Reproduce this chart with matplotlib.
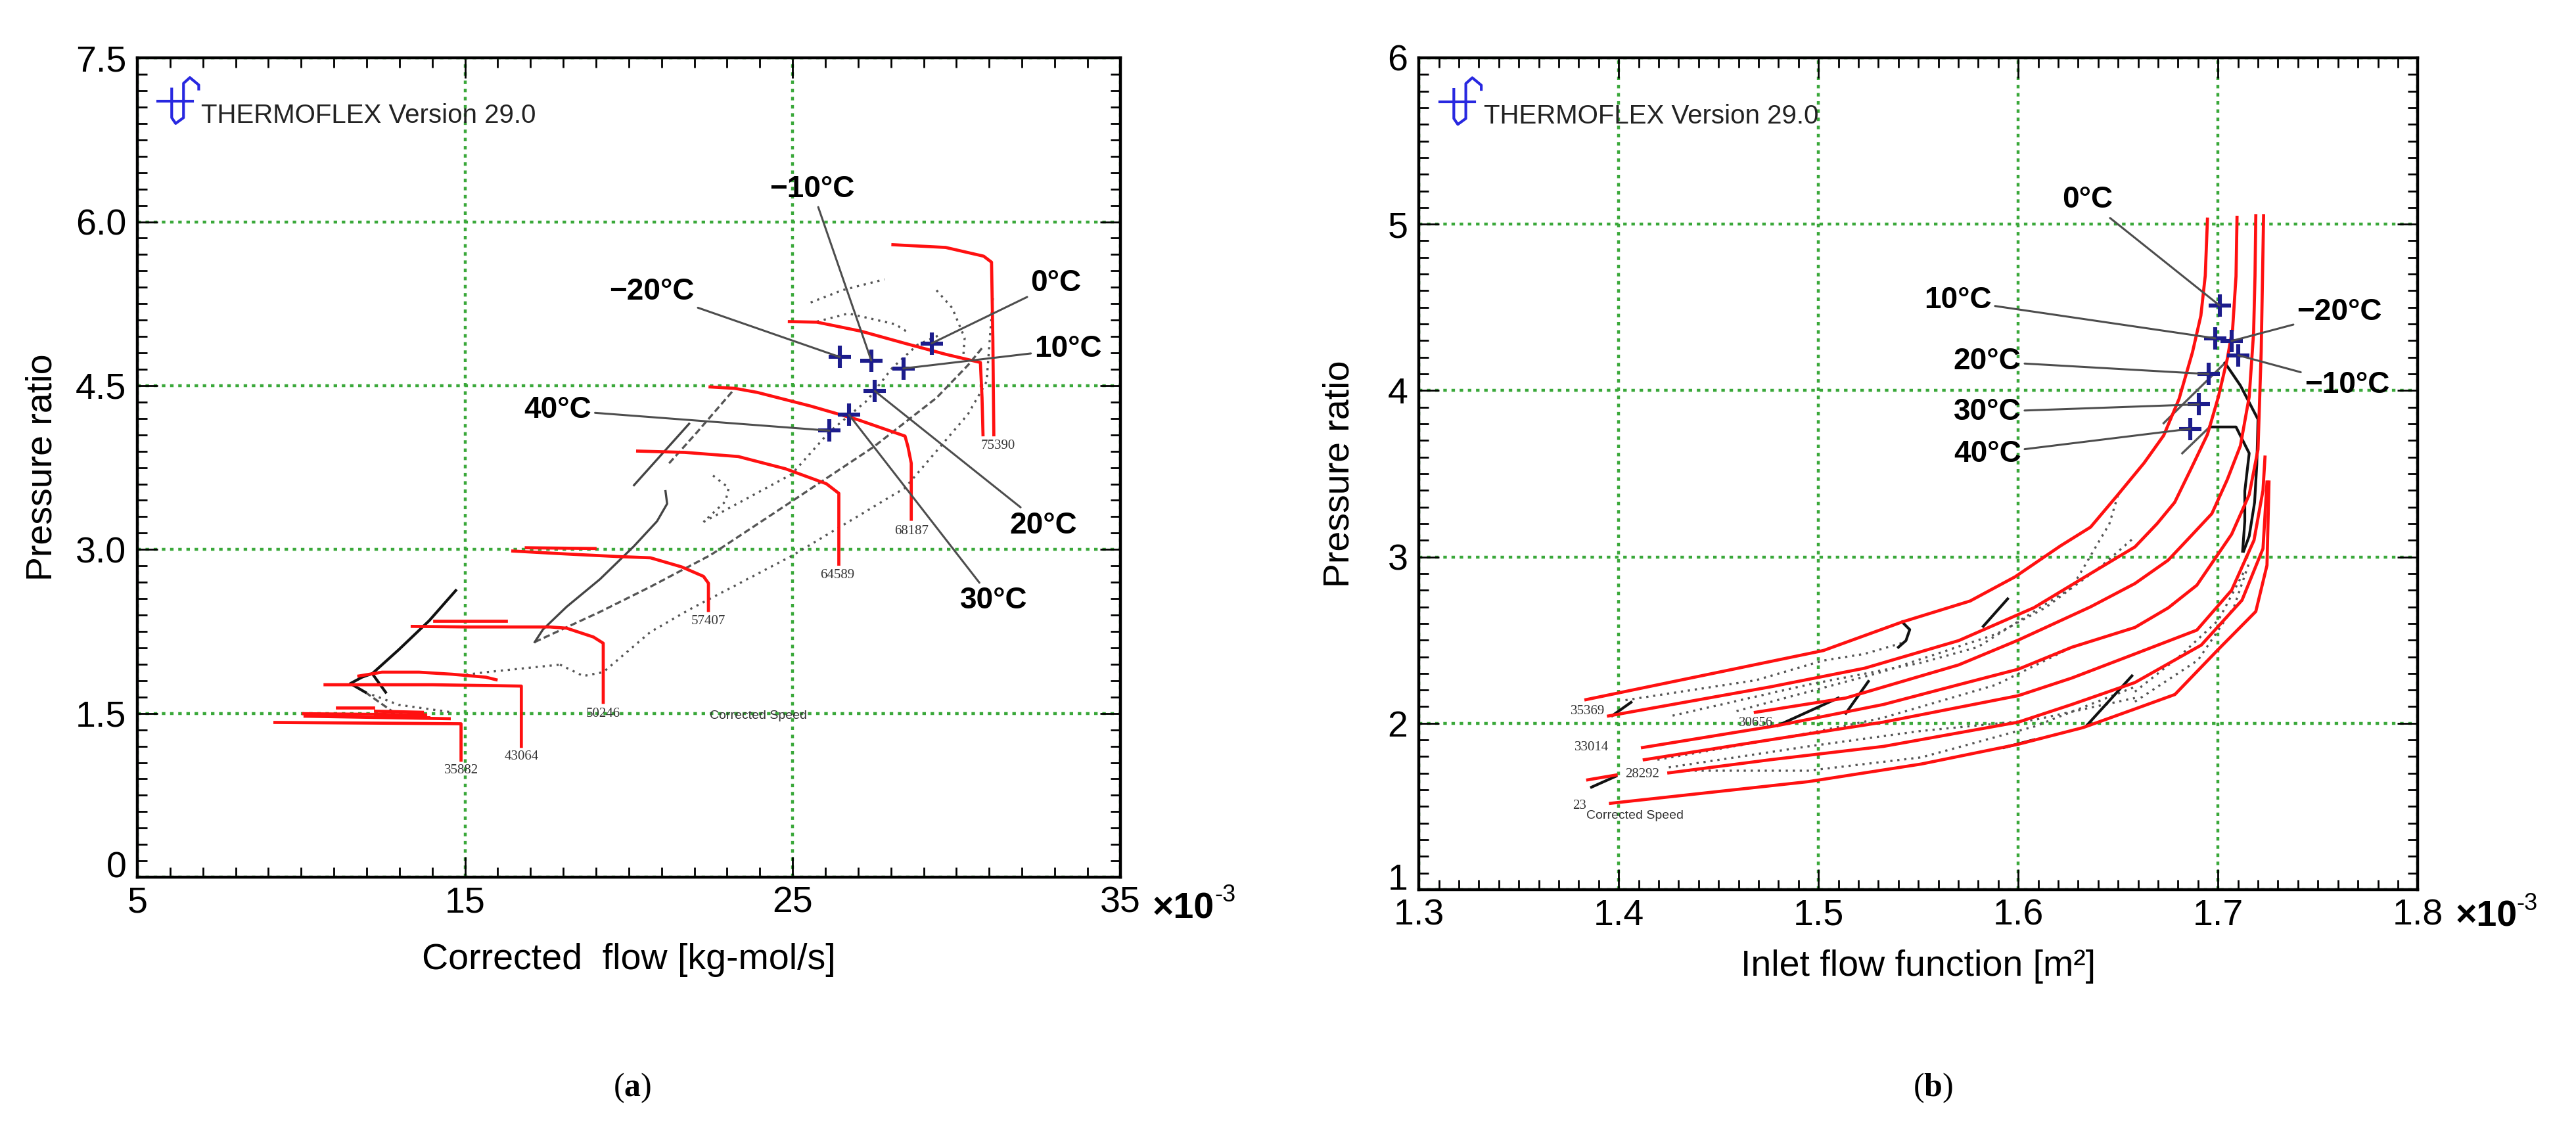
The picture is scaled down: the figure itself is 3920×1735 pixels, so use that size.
import matplotlib.pyplot as plt
from matplotlib.ticker import MultipleLocator

plt.rcParams['font.family'] = ['Liberation Sans', 'DejaVu Sans']
plt.rcParams['mathtext.fontset'] = 'custom'
plt.rcParams['mathtext.rm'] = 'Liberation Serif'
plt.rcParams['mathtext.bf'] = 'Liberation Serif:bold'

# ---------------- (a) corrected flow [x1e-3 kg-mol/s] vs pressure ratio ----------------
a_speed_75390 = [(28.06, 5.79), (29.67, 5.765), (30.83, 5.685), (31.07, 5.63), (31.11, 4.94), (31.14, 4.05)]
a_speed_7xxxx = [(24.9, 5.086), (25.74, 5.081), (27.08, 4.999), (28.43, 4.887), (29.67, 4.787),
                 (30.73, 4.712), (30.78, 4.39), (30.81, 4.05)]
a_speed_68187 = [(22.48, 4.488), (23.24, 4.475), (23.92, 4.438), (25.55, 4.313), (26.99, 4.188),
                 (27.95, 4.088), (28.43, 4.038), (28.52, 3.94), (28.62, 3.79), (28.62, 3.277)]
a_speed_64589 = [(20.27, 3.901), (21.71, 3.889), (23.34, 3.851), (24.78, 3.739), (26.03, 3.602),
                 (26.41, 3.514), (26.41, 2.866)]
a_speed_57407 = [(16.46, 2.986), (18.1, 2.959), (19.63, 2.936), (20.66, 2.924), (21.61, 2.841),
                 (22.28, 2.754), (22.43, 2.691), (22.43, 2.442)]
a_speed_50246 = [(13.39, 2.296), (15.03, 2.291), (17.59, 2.291), (18.1, 2.28), (18.92, 2.199),
                 (19.22, 2.142), (19.22, 1.601)]
a_speed_43064 = [(10.73, 1.762), (14.01, 1.762), (16.67, 1.75), (16.72, 1.75), (16.72, 1.198)]
a_speed_35882 = [(9.2, 1.417), (14.88, 1.405), (14.88, 1.071)]
a_speed_extra = [
    [(16.87, 3.016), (18.97, 3.009)],
    [(14.06, 2.349), (16.26, 2.349)],
    [(11.76, 1.842), (12.47, 1.877), (13.6, 1.877), (14.62, 1.858), (15.64, 1.831), (15.95, 1.808)],
    [(10.07, 1.497), (13.8, 1.486)],
    [(11.09, 1.55), (12.2, 1.55)],
    [(10.12, 1.474), (14.52, 1.451)],
    [(12.27, 1.52), (13.7, 1.51)],
    [(12.27, 1.47), (13.9, 1.46)],
]
a_speed_labels = ['75390', '68187', '64589', '57407', '50246', '43064', '35882']
a_speed_label_x = [31.26, 28.62, 26.36, 22.43, 19.22, 16.72, 14.88]
a_speed_label_y = [3.95, 3.165, 2.766, 2.342, 1.497, 1.106, 0.979]

a_black_lines = [
    [(14.72, 2.625), (13.91, 2.349), (12.98, 2.083), (12.17, 1.864), (12.58, 1.693)],
    [(12.17, 1.864), (11.86, 1.831), (11.5, 1.773), (11.96, 1.693)],
]
a_gray_lines = [
    [(21.12, 3.534), (21.17, 3.419), (20.86, 3.258), (20.15, 3.028), (19.12, 2.728), (18.1, 2.475),
     (17.38, 2.268), (17.13, 2.153)],
    [(20.16, 3.589), (21.84, 4.151)],
]
a_dash_lines = [
    [(17.13, 2.153), (19.12, 2.429), (20.66, 2.659), (22.5, 2.95), (24.97, 3.44), (27.47, 3.939),
     (29.39, 4.388), (30.35, 4.687), (30.83, 4.862)],
    [(21.23, 3.789), (22.09, 4.076), (23.24, 4.475)],
    [(11.96, 1.693), (12.88, 1.497)],
]
a_dot_lines = [
    [(17.9, 1.946), (18.61, 1.842), (19.22, 1.877), (20.66, 2.245), (21.86, 2.452), (24.97, 2.941),
     (28.43, 3.564), (30.35, 4.238), (30.92, 4.537), (31.11, 5.3)],
    [(12.17, 1.67), (12.98, 1.578), (14.62, 1.509)],
    [(15.03, 1.854), (15.64, 1.877), (17.9, 1.946)],
    [(22.28, 3.252), (24.97, 3.689), (26.12, 4.076), (27.27, 4.363), (28.04, 4.662), (28.81, 4.874),
     (29.48, 4.962)],
    [(25.55, 5.261), (26.51, 5.373), (27.8, 5.473)],
    [(29.39, 5.373), (29.87, 5.211), (30.25, 4.937), (30.2, 4.737)],
    [(25.74, 5.086), (26.7, 5.161), (28.14, 5.061), (28.52, 4.987)],
    [(22.57, 3.677), (23.05, 3.564), (22.95, 3.44), (22.28, 3.252)],
]
a_temps = ['\u221220\u00b0C', '\u221210\u00b0C', '0\u00b0C', '10\u00b0C', '20\u00b0C', '30\u00b0C', '40\u00b0C']
a_mark_x = [26.44, 27.40, 29.24, 28.38, 27.51, 26.72, 26.12]
a_mark_y = [4.762, 4.73, 4.887, 4.657, 4.45, 4.233, 4.088]
a_text_x = [20.7, 25.59, 33.04, 33.41, 32.65, 31.13, 17.83]
a_text_y = [5.36, 6.30, 5.44, 4.835, 3.22, 2.53, 4.277]
a_xticks = [5, 15, 25, 35]
a_yticks = [0, 1.5, 3.0, 4.5, 6.0, 7.5]
a_yticklabels = ['0', '1.5', '3.0', '4.5', '6.0', '7.5']

# ---------------- (b) inlet flow function [x1e-3 m2] vs pressure ratio ----------------
b_speed_1 = [(1.3836, 2.142), (1.5024, 2.437), (1.5419, 2.609), (1.5759, 2.735), (1.5985, 2.881),
             (1.6211, 3.066), (1.6362, 3.179), (1.6499, 3.374), (1.663, 3.565), (1.6728, 3.73),
             (1.6805, 3.95), (1.6872, 4.23), (1.6914, 4.45), (1.6936, 4.69), (1.6947, 5.03)]
b_speed_2 = [(1.3949, 2.044), (1.476, 2.219), (1.5231, 2.331), (1.5702, 2.497), (1.6079, 2.695),
             (1.6362, 2.90), (1.6584, 3.06), (1.6695, 3.2), (1.6783, 3.328), (1.6871, 3.545),
             (1.6947, 3.736), (1.7002, 3.963), (1.7046, 4.189), (1.7073, 4.37), (1.709, 4.687),
             (1.7095, 5.04)]
b_speed_3 = [(1.4684, 2.066), (1.5137, 2.152), (1.5702, 2.351), (1.6, 2.50), (1.6362, 2.70),
             (1.6584, 2.84), (1.675, 2.98), (1.686, 3.12), (1.6969, 3.26), (1.7046, 3.464),
             (1.7112, 3.668), (1.7156, 3.963), (1.7178, 4.348), (1.7185, 4.687), (1.7189, 5.05)]
b_speed_4 = [(1.4119, 1.854), (1.4797, 1.987), (1.5325, 2.113), (1.5702, 2.232), (1.6, 2.325),
             (1.6268, 2.457), (1.6584, 2.576), (1.6751, 2.694), (1.6894, 2.83), (1.7068, 3.136),
             (1.7156, 3.374), (1.72, 3.646), (1.7216, 4.234), (1.7228, 5.05)]
b_speed_5 = [(1.4128, 1.781), (1.476, 1.901), (1.5325, 2.007), (1.6, 2.166), (1.6268, 2.272),
             (1.6584, 2.417), (1.6894, 2.56), (1.7068, 2.8), (1.718, 3.1), (1.7225, 3.4), (1.7235, 3.6)]
b_speed_6 = [(1.4251, 1.702), (1.476, 1.781), (1.5325, 1.861), (1.6, 2.007), (1.6268, 2.113),
             (1.6584, 2.245), (1.6916, 2.47), (1.712, 2.74), (1.7225, 3.05), (1.7245, 3.45)]
b_speed_7 = [(1.3959, 1.519), (1.4948, 1.649), (1.5514, 1.755), (1.6, 1.874), (1.6324, 1.974),
             (1.6584, 2.086), (1.6784, 2.173), (1.7002, 2.445), (1.7189, 2.672), (1.7245, 2.95),
             (1.7255, 3.45)]
b_speed_short = [(1.3845, 1.660), (1.3987, 1.689)]
b_speed_labels = ['35369', '30656', '33014', '28292', '23']
b_speed_label_x = [1.3932, 1.4772, 1.3952, 1.4205, 1.3838]
b_speed_label_y = [2.073, 2.0, 1.854, 1.695, 1.503]

b_black_lines = [
    [(1.7035, 4.166), (1.7112, 4.03), (1.72, 3.827), (1.7194, 3.555), (1.7183, 3.328), (1.7156, 3.125),
     (1.7128, 3.034)],
    [(1.6958, 3.781), (1.709, 3.781), (1.7156, 3.623), (1.7134, 3.396), (1.7134, 3.215), (1.7123, 3.034)],
    [(1.3968, 2.046), (1.4062, 2.126)],
    [(1.4797, 1.987), (1.5099, 2.152)],
    [(1.5137, 2.06), (1.525, 2.252)],
    [(1.5419, 2.609), (1.5457, 2.563), (1.5438, 2.497), (1.54, 2.457)],
    [(1.5825, 2.583), (1.5947, 2.748)],
    [(1.6343, 1.987), (1.6569, 2.285)],
    [(1.3864, 1.616), (1.3987, 1.682)],
    [(1.5928, 1.854), (1.6079, 1.901)],
]
b_gray_lines = [
    [(1.6728, 3.804), (1.7035, 4.166)],
    [(1.6821, 3.623), (1.6958, 3.781)],
]
b_dot_lines = [
    [(1.4034, 2.139), (1.4684, 2.258), (1.5024, 2.377), (1.523, 2.417), (1.5419, 2.483)],
    [(1.427, 2.046), (1.4948, 2.232), (1.5514, 2.364), (1.5796, 2.457), (1.6268, 2.815), (1.6456, 3.199),
     (1.6499, 3.37)],
    [(1.459, 2.073), (1.5325, 2.311), (1.589, 2.536), (1.6136, 2.695), (1.6418, 2.947), (1.657, 3.106)],
    [(1.4194, 1.781), (1.4948, 1.94), (1.5325, 2.033), (1.589, 2.232), (1.6268, 2.457)],
    [(1.4251, 1.735), (1.4948, 1.861), (1.5514, 1.954), (1.6079, 2.02), (1.6584, 2.152)],
    [(1.4345, 1.715), (1.4948, 1.715), (1.5514, 1.795), (1.6079, 1.98), (1.6584, 2.219)],
    [(1.6584, 2.19), (1.6805, 2.4), (1.7002, 2.62), (1.7134, 2.92)],
    [(1.6584, 2.13), (1.69, 2.38), (1.708, 2.7), (1.716, 2.98)],
]
b_temps = ['0\u00b0C', '10\u00b0C', '\u221220\u00b0C', '\u221210\u00b0C', '20\u00b0C', '30\u00b0C', '40\u00b0C']
b_mark_x = [1.7008, 1.6986, 1.7068, 1.7101, 1.6953, 1.6904, 1.686]
b_mark_y = [4.511, 4.314, 4.298, 4.212, 4.099, 3.917, 3.77]
b_text_x = [1.6346, 1.5697, 1.7608, 1.7645, 1.5845, 1.5845, 1.5845]
b_text_y = [5.146, 4.541, 4.47, 4.035, 4.175, 3.872, 3.62]
b_xticks = [1.3, 1.4, 1.5, 1.6, 1.7, 1.8]
b_yticks = [1, 2, 3, 4, 5, 6]

RED = '#ff1010'
GRID = '#3aa83a'
NAVY = '#1c1c8c'


def line(ax, pts, **kw):
    xs = [p[0] for p in pts]
    ys = [p[1] for p in pts]
    ax.plot(xs, ys, **kw)


def style_axes(ax):
    ax.grid(True, color=GRID, linestyle=(0, (1.2, 1.6)), linewidth=1.6)
    ax.set_axisbelow(True)
    ax.tick_params(which='both', direction='in', top=True, right=True, labelsize=20)
    ax.tick_params(axis='x', which='both', pad=5)
    ax.tick_params(axis='y', which='both', pad=6)
    ax.tick_params(which='major', length=11, width=1.0)
    ax.tick_params(which='minor', length=5.5, width=1.0)
    for sp in ax.spines.values():
        sp.set_linewidth(1.6)
    # lowest y label sits on the axis, clear of the first x label
    ax.get_yticklabels()[0].set_verticalalignment('baseline')


def logo(ax):
    ax.plot([0.021, 0.056], [0.947, 0.947], color='#2828e0', lw=1.5, transform=ax.transAxes)
    ax.plot([0.035, 0.035, 0.039, 0.047, 0.047, 0.0535, 0.0625, 0.0625],
            [0.962, 0.927, 0.920, 0.927, 0.969, 0.976, 0.967, 0.962],
            color='#2828e0', lw=1.5, transform=ax.transAxes)
    ax.text(0.065, 0.921, 'THERMOFLEX Version 29.0', transform=ax.transAxes, fontsize=14.5,
            color='#222222', va='baseline', ha='left')


fig = plt.figure(figsize=(19.6, 8.675), dpi=200)
ax1 = fig.add_axes([0.0533, 0.2305, 0.3816, 0.7187])
ax2 = fig.add_axes([0.5508, 0.2196, 0.3878, 0.7297])

# ---- panel (a)
for pts in a_dot_lines:
    line(ax1, pts, color='#555555', lw=1.2, linestyle=(0, (1, 2.2)))
for pts in a_dash_lines:
    line(ax1, pts, color='#555555', lw=1.2, linestyle=(0, (3, 1.5)))
for pts in a_gray_lines:
    line(ax1, pts, color='#444444', lw=1.2)
for pts in a_black_lines:
    line(ax1, pts, color='#111111', lw=1.5)
for pts in [a_speed_75390, a_speed_7xxxx, a_speed_68187, a_speed_64589, a_speed_57407,
            a_speed_50246, a_speed_43064, a_speed_35882] + a_speed_extra:
    line(ax1, pts, color=RED, lw=1.7)
for lab, x, y in zip(a_speed_labels, a_speed_label_x, a_speed_label_y):
    ax1.text(x, y, lab, fontsize=7.5, family='Liberation Serif', color='#333333', ha='center', va='center')
ax1.text(23.96, 1.479, 'Corrected Speed', fontsize=7, color='#333333', ha='center', va='center')
ax1.plot(a_mark_x, a_mark_y, '+', color=NAVY, ms=12, mew=2.2, linestyle='none')
for t, mx, my, tx, ty in zip(a_temps, a_mark_x, a_mark_y, a_text_x, a_text_y):
    ax1.annotate(t, xy=(mx, my), xytext=(tx, ty), fontsize=16.5, fontweight='bold', ha='center',
                 va='center', arrowprops=dict(arrowstyle='-', color='#4d4d4d', lw=1.1, shrinkA=0, shrinkB=0))

ax1.set_xlim(5, 35)
ax1.set_ylim(0, 7.5)
ax1.set_xticks(a_xticks)
ax1.set_yticks(a_yticks)
ax1.set_yticklabels(a_yticklabels)
ax1.xaxis.set_minor_locator(MultipleLocator(1))
ax1.yaxis.set_minor_locator(MultipleLocator(0.15))
style_axes(ax1)
logo(ax1)
ax1.set_xlabel('Corrected  flow [kg-mol/s]', fontsize=20)
ax1.set_ylabel('Pressure ratio', fontsize=20)
ax1.xaxis.set_label_coords(0.5, -0.080)
ax1.yaxis.set_label_coords(-0.079, 0.5)
ax1.text(1.033, -0.0497, '\u00d710', transform=ax1.transAxes, fontsize=20, fontweight='bold',
         va='baseline', ha='left')
ax1.text(1.096, -0.0297, '-3', transform=ax1.transAxes, fontsize=13, va='baseline', ha='left')

# ---- panel (b)
for pts in b_dot_lines:
    line(ax2, pts, color='#555555', lw=1.2, linestyle=(0, (1, 2.2)))
for pts in b_gray_lines:
    line(ax2, pts, color='#555555', lw=1.2)
for pts in b_black_lines:
    line(ax2, pts, color='#111111', lw=1.5)
for pts in [b_speed_1, b_speed_2, b_speed_3, b_speed_4, b_speed_5, b_speed_6, b_speed_7, b_speed_short]:
    line(ax2, pts, color=RED, lw=1.7)
for lab, x, y in zip(b_speed_labels, b_speed_label_x, b_speed_label_y):
    ax2.text(x, y, lab, fontsize=7.5, family='Liberation Serif', color='#333333', ha='right', va='center')
ax2.text(1.3838, 1.444, 'Corrected Speed', fontsize=7, color='#333333', ha='left', va='center')
ax2.plot(b_mark_x, b_mark_y, '+', color=NAVY, ms=12, mew=2.2, linestyle='none')
for t, mx, my, tx, ty in zip(b_temps, b_mark_x, b_mark_y, b_text_x, b_text_y):
    ax2.annotate(t, xy=(mx, my), xytext=(tx, ty), fontsize=16.5, fontweight='bold', ha='center',
                 va='center', arrowprops=dict(arrowstyle='-', color='#4d4d4d', lw=1.1, shrinkA=0, shrinkB=0))

ax2.set_xlim(1.3, 1.8)
ax2.set_ylim(1, 6)
ax2.set_xticks(b_xticks)
ax2.set_yticks(b_yticks)
ax2.set_xticklabels([f'{v:.1f}' for v in b_xticks])
ax2.xaxis.set_minor_locator(MultipleLocator(0.01))
ax2.yaxis.set_minor_locator(MultipleLocator(0.1))
style_axes(ax2)
logo(ax2)
ax2.set_xlabel('Inlet flow function [m\u00b2]', fontsize=20)
ax2.set_ylabel('Pressure ratio', fontsize=20)
ax2.xaxis.set_label_coords(0.5, -0.072)
ax2.yaxis.set_label_coords(-0.062, 0.5)
ax2.text(1.0375, -0.0442, '\u00d710', transform=ax2.transAxes, fontsize=20, fontweight='bold',
         va='baseline', ha='left')
ax2.text(1.099, -0.0245, '-3', transform=ax2.transAxes, fontsize=13, va='baseline', ha='left')

fig.text(0.2454, 0.046, r'($\mathbf{a}$)', family='Liberation Serif', fontsize=18, ha='center', va='center')
fig.text(0.7505, 0.046, r'($\mathbf{b}$)', family='Liberation Serif', fontsize=18, ha='center', va='center')

fig.savefig('out.png', dpi=200)
